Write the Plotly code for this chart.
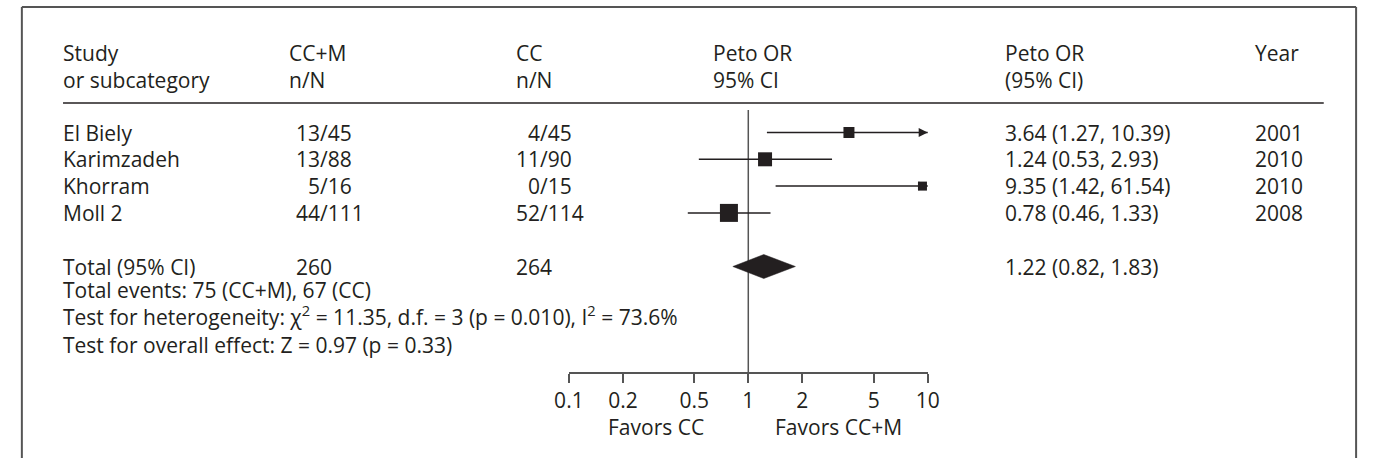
import math
import plotly.graph_objects as go

# ---------------- data ----------------
studies = ["El Biely", "Karimzadeh", "Khorram", "Moll 2"]
treat_events = [13, 13, 5, 44]
treat_total = [45, 88, 16, 111]
ctrl_events = [4, 11, 0, 52]
ctrl_total = [45, 90, 15, 114]
peto_or = [3.64, 1.24, 9.35, 0.78]
ci_low = [1.27, 0.53, 1.42, 0.46]
ci_high = [10.39, 2.93, 61.54, 1.33]
years = [2001, 2010, 2010, 2008]

total_label = "Total (95% CI)"
total_treat_n = 260
total_ctrl_n = 264
pooled_or = 1.22
pooled_low = 0.82
pooled_high = 1.83
total_events_treat = 75
total_events_ctrl = 67
het_chi2 = "11.35"
het_df = "3"
het_p = "0.010"
het_i2 = "73.6"
overall_z = "0.97"
overall_p = "0.33"

tick_values = [0.1, 0.2, 0.5, 1, 2, 5, 10]
tick_labels = ["0.1", "0.2", "0.5", "1", "2", "5", "10"]
axis_min, axis_max = 0.1, 10
favors_left = "Favors CC"
favors_right = "Favors CC+M"

# ---------------- style / layout helpers ----------------
W, H = 1373, 458
INK = "#231f20"
FRAME = "#555555"
FONT = dict(family="Open Sans", size=21, color=INK)
FIG_SPACE = "\u2007"

ROW0 = 132.5      # pixel y of first study row
STEP = 26.8       # pixel per row
AX_Y = 372        # pixel y of x-axis line
AX_X0, AX_X1 = 565, 931

def px(x):
    return x / W

def py(y):
    return 1 - y / H

def row_of_px(p):
    return (p - ROW0) / STEP

def frac(n, d, width=2):
    s = str(n)
    return FIG_SPACE * max(0, width - len(s)) + s + "/" + str(d)

pooled_row = len(studies) + 1
square_px = [11, 14, 9, 18]

fig = go.Figure()

# null line at OR = 1
fig.add_trace(go.Scatter(x=[1, 1], y=[row_of_px(110), row_of_px(AX_Y)], mode="lines",
                         line=dict(color=FRAME, width=1.5), hoverinfo="skip"))

# CI lines (clipped by the plot area at the axis maximum)
for i in range(len(studies)):
    fig.add_trace(go.Scatter(x=[ci_low[i], ci_high[i]], y=[i, i], mode="lines",
                             line=dict(color=INK, width=1.5), hoverinfo="skip"))

# arrowheads for CIs running past the axis
over = [i for i in range(len(studies)) if ci_high[i] > axis_max]
fig.add_trace(go.Scatter(x=[axis_max] * len(over), y=over, mode="markers",
                         marker=dict(symbol="arrow-right", size=9, color=INK, opacity=1,
                                     line=dict(width=0)),
                         cliponaxis=False, hoverinfo="skip"))

# squares
fig.add_trace(go.Scatter(x=peto_or, y=list(range(len(studies))), mode="markers",
                         marker=dict(symbol="square", size=square_px, color=INK, opacity=1,
                                     line=dict(width=0)),
                         cliponaxis=False, hoverinfo="skip"))

# pooled diamond
h = 12 / STEP
fig.add_trace(go.Scatter(
    x=[pooled_low, pooled_or, pooled_high, pooled_or, pooled_low],
    y=[pooled_row, pooled_row - h, pooled_row, pooled_row + h, pooled_row],
    mode="lines", fill="toself", fillcolor=INK, line=dict(color=INK, width=0.5),
    hoverinfo="skip"))

annotations = []

def txt(x, y, s, anchor="left", yref="y"):
    annotations.append(dict(x=px(x), y=y if yref == "y" else py(y), xref="paper", yref=yref,
                            text=s, showarrow=False, xanchor=anchor, yanchor="middle",
                            align="left", borderpad=0, borderwidth=0, font=dict(FONT)))

# headers (two-line blocks)
HDR = 66
txt(49, HDR, "Study<br>or subcategory", yref="paper")
txt(280, HDR, "CC+M<br>n/N", yref="paper")
txt(511, HDR, "CC<br>n/N", yref="paper")
txt(712, HDR, "Peto OR<br>95% CI", yref="paper")
txt(1010, HDR, "Peto OR<br>(95% CI)", yref="paper")
txt(1265, 53, "Year", yref="paper")

# study rows
for i, s in enumerate(studies):
    txt(49, i, s)
    txt(287, i, frac(treat_events[i], treat_total[i]))
    txt(511, i, frac(ctrl_events[i], ctrl_total[i]))
    txt(1010, i, f"{peto_or[i]:.2f} ({ci_low[i]:.2f}, {ci_high[i]:.2f})")
    txt(1265, i, str(years[i]))

# pooled row
txt(49, pooled_row, total_label)
txt(287, pooled_row, str(total_treat_n))
txt(511, pooled_row, str(total_ctrl_n))
txt(1010, pooled_row, f"{pooled_or:.2f} ({pooled_low:.2f}, {pooled_high:.2f})")

# summary block
summary = "<br>".join([
    f"Total events: {total_events_treat} (CC+M), {total_events_ctrl} (CC)",
    f"Test for heterogeneity: \u03c7<sup>2</sup> = {het_chi2}, d.f. = {het_df} "
    f"(p = {het_p}), I<sup>2</sup> = {het_i2}%",
    f"Test for overall effect: Z = {overall_z} (p = {overall_p})",
])
txt(49, 317, summary, yref="paper")

# favors labels
txt(703, 427, favors_left, anchor="right", yref="paper")
txt(775, 427, favors_right, anchor="left", yref="paper")

shapes = [
    # frame (top, left, right)
    dict(type="line", xref="paper", yref="paper", x0=px(7), x1=px(1368), y0=py(7), y1=py(7),
         line=dict(color=FRAME, width=2)),
    dict(type="line", xref="paper", yref="paper", x0=px(7), x1=px(7), y0=py(7), y1=py(H),
         line=dict(color=FRAME, width=2)),
    dict(type="line", xref="paper", yref="paper", x0=px(1368), x1=px(1368), y0=py(7), y1=py(H),
         line=dict(color=FRAME, width=2)),
    # header rule
    dict(type="line", xref="paper", yref="paper", x0=px(49), x1=px(1335), y0=py(103), y1=py(103),
         line=dict(color=INK, width=1.5)),
]

fig.update_layout(
    width=W, height=H, margin=dict(l=0, r=0, t=0, b=0),
    paper_bgcolor="white", plot_bgcolor="white", showlegend=False,
    font=FONT, annotations=annotations, shapes=shapes,
    xaxis=dict(type="log", range=[math.log10(axis_min), math.log10(axis_max)],
               domain=[px(AX_X0), px(AX_X1)], showline=True, linecolor=FRAME, linewidth=1.5,
               ticks="outside", ticklen=9, tickwidth=1.5, tickcolor=FRAME,
               tickvals=tick_values, ticktext=tick_labels, showgrid=False, zeroline=False,
               tickfont=dict(family="Open Sans", size=21, color=INK), fixedrange=True),
    yaxis=dict(domain=[py(AX_Y), 1], range=[row_of_px(AX_Y), row_of_px(0)], visible=False,
               fixedrange=True),
)

fig.write_html("out.html")
